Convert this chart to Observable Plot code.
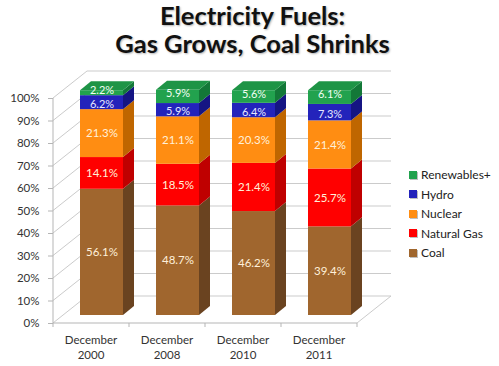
<!DOCTYPE html>
<html>
<head>
<meta charset="utf-8">
<script src="https://cdn.jsdelivr.net/npm/d3@7"></script>
<script src="https://cdn.jsdelivr.net/npm/@observablehq/plot@0.6"></script>
<style>
  html, body { margin: 0; padding: 0; background: #fff; }
  #wrap { position: relative; width: 499px; height: 366px; overflow: hidden; font-family: Lato, "Open Sans", sans-serif; }
  #title { height: 62px; padding-top: 1px; text-align: center; font-weight: bold; font-size: 25.5px; color: #111;
           text-shadow: 1px 1px 2px rgba(0,0,0,0.3); padding-left: 6px; box-sizing: border-box; }
  #title div { height: 28px; line-height: 28px; }
  #legend { position: absolute; left: 409px; top: 165px; font-size: 12px; color: #222; }
  .row { height: 19.5px; display: flex; align-items: center; }
  .sw { width: 8px; height: 8px; margin-right: 4px; box-shadow: 1px 1px 0 rgba(0,0,0,0.25); }
</style>
</head>
<body>
<div id="wrap">
  <div id="title"><div>Electricity Fuels:</div><div>Gas Grows, Coal Shrinks</div></div>
  <div id="chart"></div>
  <div id="legend"></div>
</div>
<script>
// ---- data ----
const periods = ["December 2000", "December 2008", "December 2010", "December 2011"];
const fuels = ["Coal", "Natural Gas", "Nuclear", "Hydro", "Renewables+"];
const coal = [56.1, 48.7, 46.2, 39.4];
const naturalGas = [14.1, 18.5, 21.4, 25.7];
const nuclear = [21.3, 21.1, 20.3, 21.4];
const hydro = [6.2, 5.9, 6.4, 7.3];
const renewables = [2.2, 5.9, 5.6, 6.1];
const yTicks = [0, 10, 20, 30, 40, 50, 60, 70, 80, 90, 100];

// ---- styles ----
const frontColors = ["#A0662E", "#FF0000", "#FF8D12", "#2323BB", "#22A24E"];
const sideColors  = ["#6A4320", "#BF0000", "#BF6600", "#151583", "#137838"];
const topColor = "#1E9446";
const SHIFT = 11;       // bar front face offset inside band
const DX = 11, DY = 9;  // bar depth
const WX = 34, FY = 8, BY = -19; // wall depth / offsets

const series = [coal, naturalGas, nuclear, hydro, renewables];
const table = [];
periods.forEach((p, i) => fuels.forEach((f, k) => table.push({period: p, fuel: f, value: series[k][i]})));

const bandwidthOf = (x) => typeof x.bandwidth === "function" ? x.bandwidth() : x.bandwidth;

// back wall, side wall and floor
const walls = (index, {y}, values, dims) => {
  const {width, marginLeft, marginRight} = dims;
  const x0 = marginLeft, x1 = width - marginRight;
  const g = d3.create("svg:g").attr("fill", "none").attr("stroke", "#cbcbcb").attr("stroke-width", 1);
  for (const v of yTicks) {
    g.append("line").attr("x1", x0 + WX).attr("x2", x1 + WX).attr("y1", y(v) + BY).attr("y2", y(v) + BY);
    g.append("line").attr("x1", x0).attr("y1", y(v) + FY).attr("x2", x0 + WX).attr("y2", y(v) + BY);
  }
  g.append("line").attr("x1", x1).attr("y1", y(0) + FY).attr("x2", x1 + WX).attr("y2", y(0) + BY);
  g.append("line").attr("x1", x0).attr("y1", y(0) + FY).attr("x2", x1).attr("y2", y(0) + FY).attr("stroke", "#b5b5b5");
  g.append("line").attr("x1", x0).attr("y1", y(100) + FY).attr("x2", x0).attr("y2", y(0) + FY).attr("stroke", "#b5b5b5");
  const step = (x1 - x0) / periods.length;
  for (let i = 0; i <= periods.length; i++) {
    g.append("line").attr("x1", x0 + i * step).attr("x2", x0 + i * step).attr("y1", y(0) + FY).attr("y2", y(0) + FY + 4).attr("stroke", "#b5b5b5");
  }
  return g.node();
};

// side and top faces of the stacked bars
const faces = (index, {x, y}) => {
  const bw = bandwidthOf(x);
  const g = d3.create("svg:g");
  periods.forEach((p, i) => {
    const xl = x(p) + SHIFT, xr = xl + bw;
    let acc = 0;
    fuels.forEach((f, k) => {
      const v = series[k][i];
      const yb = y(acc), yt = y(acc + v);
      acc += v;
      g.append("path")
        .attr("d", `M${xr},${yb}L${xr + DX},${yb - DY}L${xr + DX},${yt - DY}L${xr},${yt}Z`)
        .attr("fill", sideColors[k]);
      if (k === fuels.length - 1) {
        g.append("path")
          .attr("d", `M${xl},${yt}L${xl + DX},${yt - DY}L${xr + DX},${yt - DY}L${xr},${yt}Z`)
          .attr("fill", topColor);
      }
    });
  });
  return g.node();
};

const labelText = d => d.value.toFixed(1) + "%";

const chart = Plot.plot({
  width: 499,
  height: 304,
  marginLeft: 53,
  marginRight: 142,
  marginTop: 28,
  marginBottom: 51,
  style: {fontFamily: "Lato, 'Open Sans', sans-serif", fontSize: "11.5px", background: "#fff"},
  x: {domain: periods, paddingInner: 0.43, paddingOuter: 0.215, label: null},
  y: {domain: [0, 100], label: null},
  color: {domain: fuels, range: frontColors},
  marks: [
    walls,
    Plot.axisY({ticks: yTicks, tickFormat: d => d + "%", tickSize: 5, tickPadding: 9, dy: FY, stroke: "#b5b5b5", fill: "#333", fontSize: 11.5}),
    Plot.axisX({tickSize: 0, tickPadding: 18, tickFormat: d => d.replace(" ", "\n"), lineHeight: 1.3, fill: "#333", fontSize: 11.5}),
    faces,
    Plot.barY(table, {x: "period", y: "value", fill: "fuel", dx: SHIFT}),
    Plot.text(table, Plot.stackY({x: "period", y: "value", text: d => d.fuel === "Renewables+" ? labelText(d) : null, dx: SHIFT, dy: -3, fill: "#F2FFF4", fontSize: 11})),
    Plot.text(table, Plot.stackY({x: "period", y: "value", text: d => d.fuel === "Hydro" ? labelText(d) : null, dx: SHIFT, dy: 1.5, fill: "#E6E8FF", fontSize: 11})),
    Plot.text(table, Plot.stackY({x: "period", y: "value", text: d => (d.fuel !== "Renewables+" && d.fuel !== "Hydro") ? labelText(d) : null, dx: SHIFT, fill: "#FFF0DA", fontSize: 11.5}))
  ]
});
document.getElementById("chart").appendChild(chart);

// legend (top to bottom: reverse stacking order)
const legend = d3.select("#legend");
fuels.slice().reverse().forEach((f) => {
  const k = fuels.indexOf(f);
  const row = legend.append("div").attr("class", "row");
  row.append("div").attr("class", "sw").style("background", frontColors[k]);
  row.append("span").text(f);
});
</script>
</body>
</html>
